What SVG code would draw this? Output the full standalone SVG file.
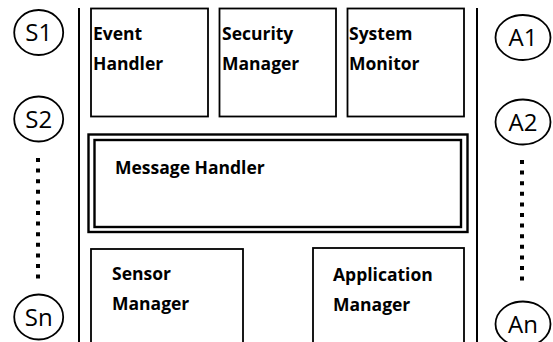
<svg xmlns="http://www.w3.org/2000/svg" width="553" height="342" viewBox="0 0 553 342">
<style>
.box{fill:#fff;stroke:#000;stroke-width:1.8}
.lbl{font-family:"Open Sans","Liberation Sans",sans-serif;font-weight:bold;font-size:17.5px;fill:#000}
.ent{fill:#fff;stroke:#000;stroke-width:1.8}
.etx{font-family:"Open Sans","Liberation Sans",sans-serif;font-size:24px;fill:#000;text-anchor:middle}
.bar{stroke:#000;stroke-width:2;fill:none}
.dots{stroke:#000;stroke-width:4;fill:none;stroke-dasharray:4 6.6}
</style>
<rect width="553" height="342" fill="#fff"/>
<g id="frame">
<line class="bar" x1="79" y1="8" x2="79" y2="342"/>
<line class="bar" x1="477" y1="8" x2="477" y2="342"/>
</g>
<g id="event-handler">
<rect class="box" x="91" y="8.5" width="117" height="108"/>
<text class="lbl" x="93" y="40">Event</text>
<text class="lbl" x="93" y="70">Handler</text>
</g>
<g id="security-manager">
<rect class="box" x="219.5" y="8.5" width="116.5" height="108"/>
<text class="lbl" x="222" y="40">Security</text>
<text class="lbl" x="222" y="70">Manager</text>
</g>
<g id="system-monitor">
<rect class="box" x="347.5" y="8.5" width="116.5" height="108"/>
<text class="lbl" x="349" y="40">System</text>
<text class="lbl" x="349" y="70">Monitor</text>
</g>
<g id="message-handler">
<rect fill="#fff" stroke="#000" stroke-width="2.4" x="88.5" y="134.5" width="379" height="97.5"/>
<rect fill="none" stroke="#000" stroke-width="2.4" x="94.5" y="140" width="366.5" height="87"/>
<text class="lbl" x="115" y="174">Message Handler</text>
</g>
<g id="sensor-manager">
<rect class="box" x="91" y="249" width="152" height="100"/>
<text class="lbl" x="112" y="280">Sensor</text>
<text class="lbl" x="112" y="310">Manager</text>
</g>
<g id="application-manager">
<rect class="box" x="313" y="248" width="151" height="100"/>
<text class="lbl" x="333" y="281">Application</text>
<text class="lbl" x="333" y="311">Manager</text>
</g>
<g id="S1"><ellipse class="ent" cx="38.7" cy="32.5" rx="24.5" ry="22.5"/><text class="etx" x="38.7" y="41">S1</text></g>
<g id="S2"><ellipse class="ent" cx="38.7" cy="119" rx="24.5" ry="22.5"/><text class="etx" x="38.7" y="127.5">S2</text></g>
<g id="Sn"><ellipse class="ent" cx="38.7" cy="317" rx="24.5" ry="22.5"/><text class="etx" x="38.7" y="325.5">Sn</text></g>
<g id="A1"><ellipse class="ent" cx="523" cy="37.5" rx="27.5" ry="22.5"/><text class="etx" x="523" y="46">A1</text></g>
<g id="A2"><ellipse class="ent" cx="523" cy="122" rx="27.5" ry="22.5"/><text class="etx" x="523" y="130.5">A2</text></g>
<g id="An"><ellipse class="ent" cx="523" cy="324" rx="27.5" ry="22.5"/><text class="etx" x="523" y="332.5">An</text></g>
<g id="connectors">
<line class="dots" x1="38" y1="158" x2="38" y2="280"/>
<line class="dots" x1="522" y1="160" x2="522" y2="282"/>
</g>
</svg>
